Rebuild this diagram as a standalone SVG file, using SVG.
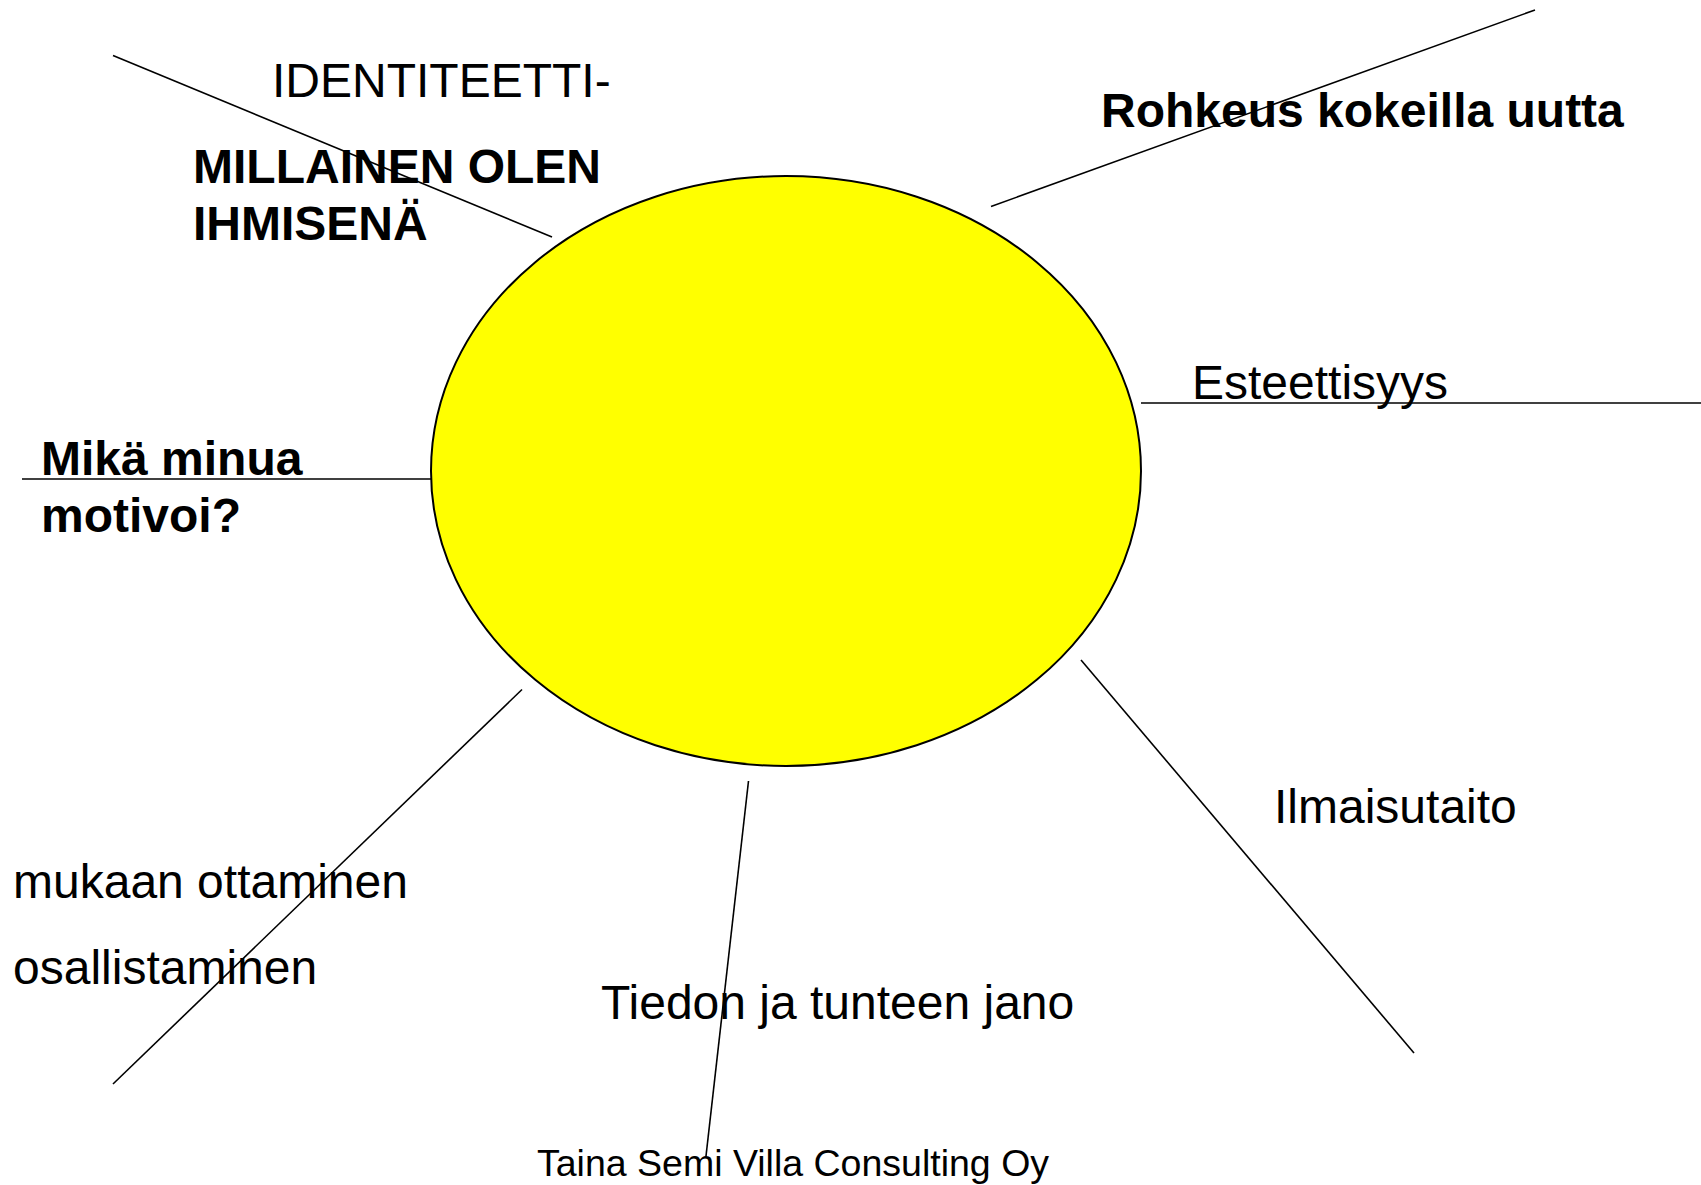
<svg xmlns="http://www.w3.org/2000/svg" width="1701" height="1185" viewBox="0 0 1701 1185">
<style>
.t{font-family:"Liberation Sans",Arial,sans-serif;font-size:48px;fill:#000}
.b{font-weight:bold;font-size:48px}
.s{font-size:37.5px}
.c{stroke:#000;stroke-width:1.6;fill:none}
</style>
<rect width="1701" height="1185" fill="#fff"/>
<g id="center">
<ellipse cx="786" cy="471" rx="355" ry="295" fill="#ffff00" stroke="#000" stroke-width="2"/>
</g>
<g id="connectors">
<line class="c" x1="113" y1="55.5" x2="552" y2="237"/>
<line class="c" x1="1535" y1="10" x2="991" y2="206.5"/>
<line class="c" x1="1141" y1="403" x2="1701" y2="403"/>
<line class="c" x1="22" y1="479" x2="431" y2="479"/>
<line class="c" x1="522" y1="689.5" x2="113" y2="1084"/>
<line class="c" x1="748.5" y1="781" x2="706" y2="1156"/>
<line class="c" x1="1081" y1="660" x2="1414" y2="1053"/>
</g>
<g id="identiteetti">
<text class="t" x="272" y="97">IDENTITEETTI-</text>
<text class="t b" x="193" y="182.5">MILLAINEN OLEN</text>
<text class="t b" x="193" y="240">IHMISENÄ</text>
</g>
<g id="rohkeus">
<text class="t b" x="1101" y="127">Rohkeus kokeilla uutta</text>
</g>
<g id="esteettisyys">
<text class="t" x="1192" y="399">Esteettisyys</text>
</g>
<g id="motivoi">
<text class="t b" x="41" y="475">Mikä minua</text>
<text class="t b" x="41" y="531.5">motivoi?</text>
</g>
<g id="osallistaminen">
<text class="t" x="13" y="898">mukaan ottaminen</text>
<text class="t" x="13" y="984">osallistaminen</text>
</g>
<g id="tiedon">
<text class="t" x="601" y="1019">Tiedon ja tunteen jano</text>
</g>
<g id="ilmaisutaito">
<text class="t" x="1274" y="822.5">Ilmaisutaito</text>
</g>
<g id="footer">
<text class="t s" x="537" y="1176">Taina Semi Villa Consulting Oy</text>
</g>
</svg>
